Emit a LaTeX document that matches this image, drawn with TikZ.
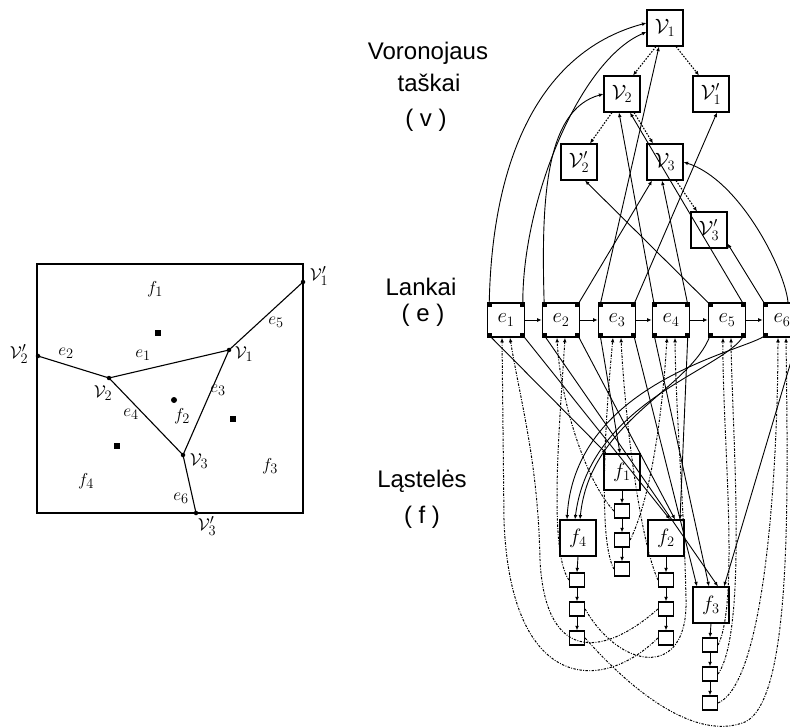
\documentclass[tikz,border=0pt]{standalone}
\usepackage{fontspec}
\newfontfamily\capfont{Liberation Sans}
\usetikzlibrary{arrows.meta,calc}
\tikzset{
  boxfont/.style={font=\fontsize{20}{20}\selectfont},
  vbox/.style={draw,line width=1.1pt,minimum width=36pt,minimum height=36pt,inner sep=0pt,boxfont},
  ebox/.style={draw,line width=1.6pt,minimum width=37pt,minimum height=34pt,inner sep=0pt,boxfont},
  fbox/.style={draw,line width=1.1pt,minimum width=36pt,minimum height=36pt,inner sep=0pt,boxfont},
  sbox/.style={draw,line width=1.2pt,minimum width=15pt,minimum height=14pt,inner sep=0pt},
  ptr/.style={-{Latex[length=4.5pt,width=3.8pt]},line width=0.9pt},
  vlink/.style={-{Latex[length=4.5pt,width=3.8pt]},line width=1.1pt,dash pattern=on 1.6pt off 1.4pt},
  flink/.style={-{Latex[length=4.5pt,width=3.8pt]},line width=1pt,dash pattern=on 2.4pt off 1.4pt on 0.9pt off 1.4pt},
  captxt/.style={font=\capfont\fontsize{24}{24}\selectfont},
  lab/.style={font=\fontsize{19}{19}\selectfont,inner sep=0pt},
  site/.style={fill,minimum size=6pt,inner sep=0pt},
  vert/.style={circle,fill,minimum size=4.5pt,inner sep=0pt},
}
\begin{document}
\begin{tikzpicture}[x=1pt,y=-1pt]
\useasboundingbox (0,0) rectangle (790,727);

% ---------- planar Voronoi diagram ----------
\draw[line width=1.1pt] (37,264) rectangle (303,513);
\coordinate (Lv1) at (229,350);
\coordinate (Lv2) at (109,378);
\coordinate (Lv3) at (183,455);
\coordinate (Lv1p) at (303,282);
\coordinate (Lv2p) at (38,356);
\coordinate (Lv3p) at (196,513);
\draw[line width=1.1pt] (Lv2p) -- (Lv2) -- (Lv1) -- (Lv1p);
\draw[line width=1.1pt] (Lv2) -- (Lv3) -- (Lv1);
\draw[line width=1.1pt] (Lv3) -- (Lv3p);
\foreach \p in {Lv1,Lv2,Lv3,Lv1p,Lv2p,Lv3p} \node[vert] at (\p) {};
\node[site] (s1) at (158,333) {};
\node[site,circle] (s2) at (174,400) {};
\node[site] (s3) at (233,419) {};
\node[site] (s4) at (117,446) {};
\node[lab] (lf1) at (155,289) {$f_1$};
\node[lab] (lf2) at (182,416) {$f_2$};
\node[lab] (lf3) at (270,466) {$f_3$};
\node[lab] (lf4) at (86,481) {$f_4$};
\node[lab] (le1) at (143,355) {$e_1$};
\node[lab] (le2) at (66,353) {$e_2$};
\node[lab] (le3) at (218,390) {$e_3$};
\node[lab] (le4) at (131,414) {$e_4$};
\node[lab] (le5) at (276,322) {$e_5$};
\node[lab] (le6) at (181,498) {$e_6$};
\node[lab] (lv1) at (244,354) {$\mathcal{V}_1$};
\node[lab] (lv2) at (103,393) {$\mathcal{V}_2$};
\node[lab] (lv3) at (199,461) {$\mathcal{V}_3$};
\node[lab] (lv1p) at (319,276) {$\mathcal{V}_1'$};
\node[lab] (lv2p) at (19,354) {$\mathcal{V}_2'$};
\node[lab] (lv3p) at (207,526) {$\mathcal{V}_3'$};

% ---------- captions ----------
\node[captxt] (c1) at (428,53) {Voronojaus};
\node[captxt] (c2) at (429,83) {taškai};
\node[captxt] (c3) at (426,120) {( v )};
\node[captxt] (c4) at (421,287) {Lankai};
\node[captxt] (c5) at (423,315) {( e )};
\node[captxt] (c6) at (422,481) {Ląstelės};
\node[captxt] (c7) at (422,517) {( f )};

% ---------- vertex records ----------
\node[vbox] (v1) at (665,28) {$\mathcal{V}_1$};
\node[vbox] (v2) at (622,94) {$\mathcal{V}_2$};
\node[vbox] (v1p) at (711,94) {$\mathcal{V}_1'$};
\node[vbox] (v2p) at (579,162) {$\mathcal{V}_2'$};
\node[vbox] (v3) at (665,162) {$\mathcal{V}_3$};
\node[vbox] (v3p) at (709,230) {$\mathcal{V}_3'$};
\draw[vlink] ($(v1.south)+(-9,0)$) -- ($(v2.north)+(11,0)$);
\draw[vlink] ($(v1.south)+(11,0)$) -- ($(v1p.north)+(-12,0)$);
\draw[vlink] ($(v2.south)+(-10,0)$) -- ($(v2p.north)+(11,0)$);
\draw[vlink] ($(v2.south)+(12,0)$) -- ($(v3.north)+(-12,0)$);
\draw[vlink] ($(v3.south)+(11,0)$) -- ($(v3p.north)+(-12,0)$);

% ---------- edge records ----------
\foreach \i/\x in {1/506,2/561,3/617,4/671,5/727,6/782}
  \node[ebox] (e\i) at (\x,320) {$e_{\i}$};
\foreach \i in {1,...,6} {
  \fill (e\i.north west) rectangle ++(5,5);
  \fill (e\i.north east) rectangle ++(-5,5);
  \fill (e\i.south west) rectangle ++(5,-5);
  \fill (e\i.south east) rectangle ++(-5,-5);
  \coordinate (e\i nw) at ($(e\i.north west)+(2.5,2.5)$);
  \coordinate (e\i ne) at ($(e\i.north east)+(-2.5,2.5)$);
  \coordinate (e\i sw) at ($(e\i.south west)+(2.5,-2.5)$);
  \coordinate (e\i se) at ($(e\i.south east)+(-2.5,-2.5)$);
  \coordinate (e\i bl) at ($(e\i.south)+(-4,0)$);
  \coordinate (e\i br) at ($(e\i.south)+(4,0)$);
}
\foreach \i/\j in {1/2,2/3,3/4,4/5,5/6}
  \draw[ptr] (e\i.east) -- (e\j.west);

% edge -> vertex pointers
\draw[ptr] (e1nw) .. controls (492,150) and (545,50) .. ($(v1.west)+(0,-5)$);
\draw[ptr] (e1ne) .. controls (522,200) and (580,60) .. ($(v1.west)+(0,4)$);
\draw[ptr] (e2nw) .. controls (541,200) and (545,110) .. (v2.west);
\draw[ptr] (e2ne) -- ($(v3.south)+(-13,0)$);
\draw[ptr] (e3nw) -- ($(v1.south)+(-6,0)$);
\draw[ptr] (e3ne) -- ($(v1p.south)+(6,0)$);
\draw[ptr] (e4nw) -- ($(v2.south)+(-3,0)$);
\draw[ptr] (e4ne) -- ($(v3.south)+(-3,0)$);
\draw[ptr] (e5nw) -- ($(v2p.south)+(6,0)$);
\draw[ptr] (e5ne) -- ($(v2.south)+(8,0)$);
\draw[ptr] (e6nw) -- ($(v3p.south east)+(0,-5)$);
\draw[ptr] ($(e6.north)+(6,0)$) .. controls (785,270) and (740,180) .. (v3.east);

% ---------- face records ----------
\node[fbox] (f1) at (622,472) {$f_1$};
\node[fbox] (f4) at (578,538) {$f_4$};
\node[fbox] (f2) at (666,538) {$f_2$};
\node[fbox] (f3) at (711,605) {$f_3$};
\foreach \n/\x/\y in {1/622/511, 4/577/580, 2/666/580, 3/710/645} {
  \node[sbox] (s\n a) at (\x,\y) {};
  \node[sbox] (s\n b) at (\x,\y+29) {};
  \node[sbox] (s\n c) at (\x,\y+58) {};
  \draw[ptr] (f\n.south) -- (s\n a.north);
  \draw[ptr] (s\n a.south) -- (s\n b.north);
  \draw[ptr] (s\n b.south) -- (s\n c.north);
}

% edge -> face pointers
\draw[ptr] (e1sw) -- ($(f1.north west)+(3,0)$);
\draw[ptr] (e1se) -- ($(f2.north)+(4,0)$);
\draw[ptr] (e2sw) -- ($(f3.north)+(7,0)$);
\draw[ptr] (e2se) -- ($(f2.north)+(9,0)$);
\draw[ptr] (e3sw) -- ($(f1.north)+(-2,0)$);
\draw[ptr] (e3se) -- ($(f3.north)+(-14,0)$);
\draw[ptr] (e4sw) -- ($(f3.north)+(-2,0)$);
\draw[ptr] (e4se) -- ($(f2.north)+(14,0)$);
\draw[ptr] (e5sw) .. controls (690,390) and (590,420) .. ($(f4.north)+(2,0)$);
\draw[ptr] (e5se) .. controls (725,370) and (590,400) .. ($(f4.north)+(-3,0)$);
\draw[ptr] (e6sw) .. controls (750,350) and (575,380) .. ($(f4.north)+(-11,0)$);
\draw[ptr] (e6se) -- ($(f3.north)+(13,0)$);

% face edge lists -> edge pointers
\draw[flink] (s2c.west) .. controls (600,695) and (510,690) .. (504,520) -- (e1bl);
\draw[flink] (s2b.west) .. controls (600,660) and (545,660) .. (540,560) .. controls (538,460) and (520,400) .. (e1br);
\draw[flink] (s1a.west) .. controls (585,480) and (560,400) .. (e2bl);
\draw[flink] (s4a.west) .. controls (548,550) and (560,420) .. (e2br);
\draw[flink] (s1c.west) .. controls (598,540) and (605,420) .. (e3bl);
\draw[flink] (s2a.west) .. controls (640,540) and (625,420) .. (e3br);
\draw[flink] (s1b.east) .. controls (650,500) and (662,420) .. (e4bl);
\draw[flink] (s4b.east) .. controls (620,670) and (688,680) .. (686,600) .. controls (684,500) and (676,420) .. (e4br);
\draw[flink] (s3a.east) .. controls (740,600) and (722,430) .. (e5bl);
\draw[flink] (s3b.east) .. controls (748,630) and (732,430) .. (e5br);
\draw[flink] (s3c.east) .. controls (770,680) and (778,430) .. (e6bl);
\draw[flink] (s4c.east) .. controls (640,700) and (700,740) .. (745,722) .. controls (792,700) and (788,500) .. (e6br);
\end{tikzpicture}
\end{document}
